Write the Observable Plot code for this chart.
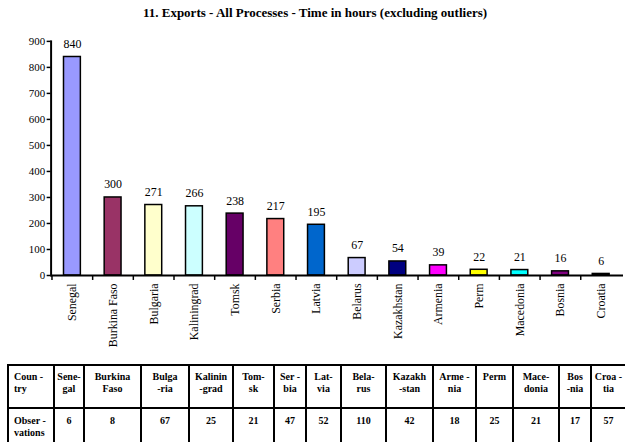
<!DOCTYPE html>
<html>
<head>
<meta charset="utf-8">
<script src="https://cdn.jsdelivr.net/npm/d3@7"></script>
<script src="https://cdn.jsdelivr.net/npm/@observablehq/plot@0.6"></script>
<style>
  html, body { margin: 0; padding: 0; background: #fff; overflow: hidden; width: 625px; height: 442px; }
  #title { font-family: "Liberation Serif", "Times New Roman", "DejaVu Serif", serif; font-weight: bold; font-size: 13px; text-align: center; width: 625px; padding-left: 5px; box-sizing: border-box; height: 26px; line-height: 26px; }
  #chart svg { display: block; }
  table { border-collapse: collapse; margin-left: 7px; margin-top: 5px; table-layout: fixed; font-family: "Liberation Serif", "Times New Roman", "DejaVu Serif", serif; font-weight: bold; font-size: 10px; }
  td { border: 2px solid #000; text-align: center; vertical-align: top; padding: 5px 2px 0 2px; line-height: 12px; box-sizing: border-box; }
  td.first { text-align: left; padding-left: 5px; }
  tr.h td { height: 43px; }
  tr.v td { height: 42px; padding-top: 6px; }
</style>
</head>
<body>
<div id="title">11. Exports - All Processes - Time in hours (excluding outliers)</div>
<div id="chart"></div>
<table id="tbl"></table>
<script>
const countries = ["Senegal","Burkina Faso","Bulgaria","Kaliningrad","Tomsk","Serbia","Latvia","Belarus","Kazakhstan","Armenia","Perm","Macedonia","Bosnia","Croatia"];
const hours = [840,300,271,266,238,217,195,67,54,39,22,21,16,6];
const colors = ["#9999FF","#993366","#FFFFCC","#CCFFFF","#660066","#FF8080","#0066CC","#CCCCFF","#000080","#FF00FF","#FFFF00","#00FFFF","#800080","#000000"];
const yTicks = [0,100,200,300,400,500,600,700,800,900];
const tableHeader = ["Coun -<br>try","Sene-<br>gal","Burkina<br>Faso","Bulga<br>-ria","Kalinin<br>-grad","Tom-<br>sk","Ser -<br>bia","Lat-<br>via","Bela-<br>rus","Kazakh<br>-stan","Arme -<br>nia","Perm","Mace-<br>donia","Bos<br>-nia","Croa -<br>tia"];
const observations = ["Obser -<br>vations","6","8","67","25","21","47","52","110","42","18","25","21","17","57"];
const colWidths = [46,30,57,48,44,41,32,35,45,47,43,37,46,32,35];

const data = countries.map((c, i) => ({country: c, hours: hours[i], color: colors[i]}));

const FONT = "'Liberation Serif', 'Times New Roman', 'DejaVu Serif', serif";
const W = 630, ML = 51, MR = 2;
const step = (W - ML - MR) / countries.length;

const chart = Plot.plot({
  width: W,
  height: 336,
  marginTop: 15,
  marginBottom: 85,
  marginLeft: ML,
  marginRight: MR,
  style: {fontFamily: FONT, fontSize: "11px", color: "#000", background: "#fff", overflow: "visible"},
  x: {domain: countries, paddingInner: 0.58, paddingOuter: 0.29, label: null},
  y: {domain: [0, 900], ticks: yTicks, label: null},
  marks: [
    Plot.barY(data, {x: "country", y: "hours", fill: "color", stroke: "#000", strokeWidth: 1.5}),
    Plot.text(data, {x: "country", y: "hours", text: d => String(d.hours), dy: -13, fontSize: 12}),
    Plot.axisY({ticks: yTicks, tickSize: 4, tickPadding: 2, strokeWidth: 1.5, fontSize: 11, label: null}),
    Plot.axisX({tickSize: 5, text: null, dx: -step / 2, strokeWidth: 1.5, label: null}),
    Plot.axisX({tickSize: 0, tickPadding: 8, tickRotate: -90, fontSize: 12, label: null}),
    Plot.ruleY([0], {stroke: "#000", strokeWidth: 2}),
    Plot.frame({anchor: "left", stroke: "#000", strokeWidth: 2})
  ]
});
document.getElementById("chart").appendChild(chart);

const tbl = document.getElementById("tbl");
const cg = document.createElement("colgroup");
colWidths.forEach(w => { const c = document.createElement("col"); c.style.width = w + "px"; cg.appendChild(c); });
tbl.appendChild(cg);
tbl.style.width = colWidths.reduce((a, b) => a + b, 0) + "px";
[[tableHeader, "h"], [observations, "v"]].forEach(([row, cls]) => {
  const tr = document.createElement("tr");
  tr.className = cls;
  row.forEach((t, i) => {
    const td = document.createElement("td");
    td.innerHTML = t;
    if (i === 0) td.className = "first";
    tr.appendChild(td);
  });
  tbl.appendChild(tr);
});
</script>
</body>
</html>
